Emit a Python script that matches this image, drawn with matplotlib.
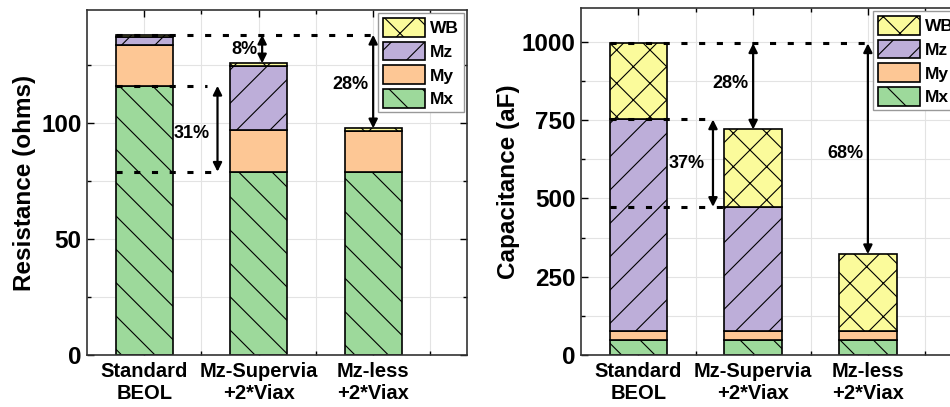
import numpy as np
import matplotlib.pyplot as plt
from matplotlib.patches import Patch

plt.rcParams['font.family'] = ['Liberation Sans', 'DejaVu Sans']
plt.rcParams['font.weight'] = 'bold'
plt.rcParams['hatch.linewidth'] = 0.8

categories = ['Standard\nBEOL', 'Mz-Supervia\n+2*Viax', 'Mz-less\n+2*Viax']
layers = ['Mx', 'My', 'Mz', 'WB']

# resistance (ohms)
res_mx = [116, 79, 79]
res_my = [17.5, 18, 17.7]
res_mz = [3.5, 27.5, 0]
res_wb = [1.0, 1.2, 1.0]

# capacitance (aF)
cap_mx = [48, 48, 48]
cap_my = [30, 30, 30]
cap_mz = [674, 395, 0]
cap_wb = [243, 247, 244]

res_pct = ['8%', '28%', '31%']
cap_pct = ['28%', '68%', '37%']

colors = {'Mx': '#9dd99b', 'My': '#fdc795', 'Mz': '#bdaed9', 'WB': '#fbfb9b'}
hatches = {'Mx': '\\', 'My': '', 'Mz': '/', 'WB': 'x'}

x = np.arange(1, len(categories) + 1)
width = 0.5


def draw_stack(ax, series):
    bottom = np.zeros(len(x))
    for name, vals in zip(layers, series):
        ax.bar(x, vals, width, bottom=bottom, color=colors[name], hatch=hatches[name],
               edgecolor='black', linewidth=1.2, zorder=2)
        bottom = bottom + np.array(vals)
    return bottom


def style_axes(ax, ylim, major, minor, ylabel):
    ax.set_xlim(0.5, 3.82)
    ax.set_ylim(*ylim)
    ax.set_yticks(np.arange(0, ylim[1], major))
    ax.set_yticks(np.arange(minor, ylim[1], major), minor=True)
    ax.set_xticks(x)
    ax.set_xticks(x + 0.5, minor=True)
    ax.set_xticklabels(categories, fontsize=14.5, fontweight='bold', linespacing=1.2)
    ax.tick_params(axis='y', which='major', labelsize=17.5)
    ax.tick_params(which='both', direction='in', top=True, right=True, width=1)
    ax.tick_params(which='major', length=5)
    ax.tick_params(which='minor', length=3)
    ax.tick_params(axis='x', pad=5)
    ax.tick_params(axis='y', pad=4)
    ax.grid(True, which='both', color='#e3e3e3', linewidth=0.8, zorder=0)
    ax.set_axisbelow(True)
    for s in ax.spines.values():
        s.set_linewidth(1.2)
        s.set_color('#333333')
    ax.set_ylabel(ylabel, fontsize=17.5, fontweight='bold')
    handles = [Patch(facecolor=colors[n], hatch=hatches[n], edgecolor='black', linewidth=1.2, label=n)
               for n in reversed(layers)]
    ax.legend(handles=handles, loc='upper right', handlelength=2.45, handleheight=1.3,
              labelspacing=0.28, borderpad=0.25, handletextpad=0.3, borderaxespad=0.2,
              fancybox=False, edgecolor='#999999', framealpha=1,
              prop={'weight': 'bold', 'size': 12.5})


def dash(ax, y, x0, x1):
    ax.plot([x0, x1], [y, y], color='black', linestyle=(0, (2, 3.8)), linewidth=2.2, zorder=4)


def arrow(ax, xp, y0, y1):
    ax.annotate('', xy=(xp, y1), xytext=(xp, y0),
                arrowprops=dict(arrowstyle='<|-|>', color='black', lw=1.6, mutation_scale=13,
                                shrinkA=0, shrinkB=0), zorder=5)


fig = plt.figure(figsize=(9.5, 4.07), dpi=100)

# resistance panel
ax1 = fig.add_axes([0.0916, 0.1278, 0.4, 0.8477])
tot_r = draw_stack(ax1, [res_mx, res_my, res_mz, res_wb])
style_axes(ax1, (0, 148.7), 50, 25, 'Resistance (ohms)')
ax1.yaxis.set_label_coords(-0.135, 0.5)
dash(ax1, tot_r[0], 0.75, 3.0)
dash(ax1, res_mx[0], 0.75, 1.55)
dash(ax1, res_mx[1], 0.75, 1.68)
arrow(ax1, 2.03, tot_r[0], tot_r[1])
arrow(ax1, 3.0, tot_r[0], tot_r[2])
arrow(ax1, 1.64, res_mx[0], res_mx[1])
ax1.text(1.99, 131.5, res_pct[0], ha='right', va='center', fontsize=13, fontweight='bold')
ax1.text(2.96, 116.5, res_pct[1], ha='right', va='center', fontsize=13, fontweight='bold')
ax1.text(1.57, 95.5, res_pct[2], ha='right', va='center', fontsize=13, fontweight='bold')

# capacitance panel
ax2 = fig.add_axes([0.6116, 0.1278, 0.401, 0.8526])
tot_c = draw_stack(ax2, [cap_mx, cap_my, cap_mz, cap_wb])
style_axes(ax2, (0, 1108), 250, 125, 'Capacitance (aF)')
ax2.yaxis.set_label_coords(-0.16, 0.5)
mz_top = np.array(cap_mx) + np.array(cap_my) + np.array(cap_mz)
dash(ax2, tot_c[0], 0.75, 3.0)
dash(ax2, mz_top[0], 0.75, 1.68)
dash(ax2, mz_top[1], 0.75, 1.76)
arrow(ax2, 2.0, tot_c[0], tot_c[1])
arrow(ax2, 3.0, tot_c[0], tot_c[2])
arrow(ax2, 1.65, mz_top[0], mz_top[1])
ax2.text(1.96, 867, cap_pct[0], ha='right', va='center', fontsize=13, fontweight='bold')
ax2.text(2.96, 644, cap_pct[1], ha='right', va='center', fontsize=13, fontweight='bold')
ax2.text(1.58, 612, cap_pct[2], ha='right', va='center', fontsize=13, fontweight='bold')

fig.savefig('out.png', dpi=100)
